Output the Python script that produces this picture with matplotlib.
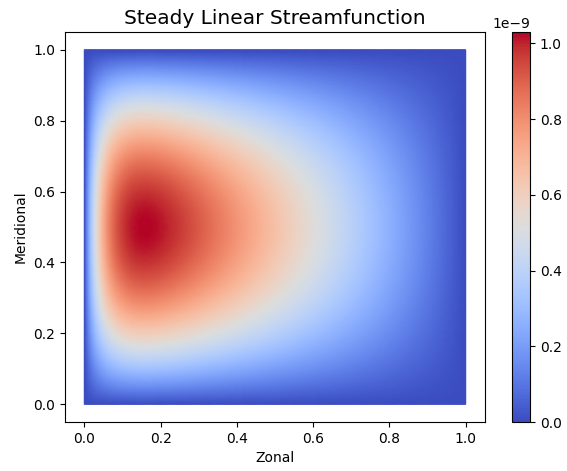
import numpy as np
import matplotlib.pyplot as plt

# Stommel-type steady linear solution on the unit basin
nx, ny = 200, 200
eps = 0.055          # western boundary layer width
psi_max = 1.03e-9    # peak streamfunction value

x = np.linspace(0, 1, nx)
y = np.linspace(0, 1, ny)
X, Y = np.meshgrid(x, y)

shape = (1 - X - np.exp(-X / eps)) * np.sin(np.pi * Y)
psi = psi_max * shape / shape.max()

fig = plt.figure(figsize=(5.67, 4.71), dpi=100)
ax = fig.add_axes([0.115, 0.104, 0.74, 0.828])
cax = fig.add_axes([0.903, 0.104, 0.032, 0.828])

mesh = ax.pcolormesh(X, Y, psi, cmap='coolwarm', shading='gouraud',
                     vmin=0, vmax=psi_max)
ax.set_xlim(-0.05, 1.05)
ax.set_ylim(-0.05, 1.05)
ax.set_xlabel('Zonal')
ax.set_ylabel('Meridional')
ax.set_title('Steady Linear Streamfunction', fontsize=14.5)

fig.colorbar(mesh, cax=cax)

fig.savefig('out.png', dpi=100)
